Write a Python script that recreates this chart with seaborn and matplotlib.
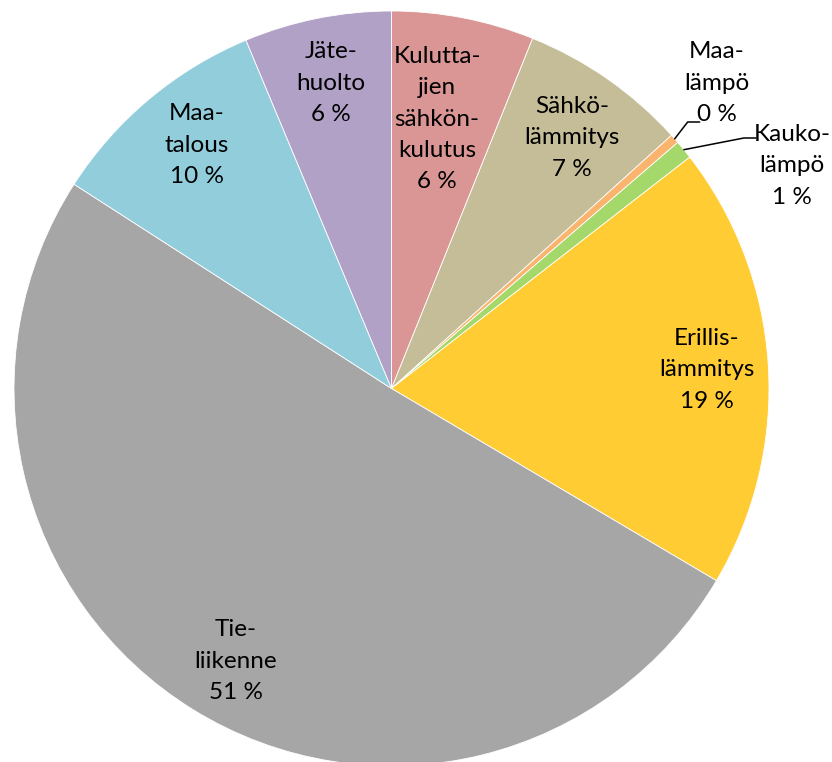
import matplotlib
matplotlib.use("Agg")
import matplotlib.pyplot as plt
import seaborn as sns
import numpy as np

sns.set_theme(style="white")
plt.rcParams["font.family"] = ["Lato", "DejaVu Sans"]

# Emission shares by sector (%)
labels = [
    "Kulutta-\njien\nsähkön-\nkulutus",
    "Sähkö-\nlämmitys",
    "Maa-\nlämpö",
    "Kauko-\nlämpö",
    "Erillis-\nlämmitys",
    "Tie-\nliikenne",
    "Maa-\ntalous",
    "Jäte-\nhuolto",
]
values = [6.1, 7.2, 0.4, 0.8, 19.0, 50.6, 9.6, 6.3]
colors = ["#D99694", "#C4BD97", "#FAB46E", "#A5D86B",
          "#FFCC33", "#A6A6A6", "#92CDDC", "#B2A1C7"]

# label anchor positions in pixels (layout)
label_px = [(437, 119), (572, 138), (717, 83), (792, 166),
            (707, 370), (236, 661), (197, 145), (331, 83)]
leader = [False, False, True, True, False, False, False, False]

W, H = 832, 762
cx, cy, r = 391.5, H - 388.5, 377.5

fig = plt.figure(figsize=(W / 100, H / 100), dpi=100)
ax = fig.add_axes([0, 0, 1, 1])
wedges, _ = ax.pie(
    values,
    colors=colors,
    startangle=90,
    counterclock=False,
    center=(cx, cy),
    radius=r,
    wedgeprops=dict(edgecolor="white", linewidth=0.6),
)
ax.set_xlim(0, W)
ax.set_ylim(0, H)
ax.set_aspect("equal")
ax.axis("off")

for w, lab, v, (px, py), lead in zip(wedges, labels, values, label_px, leader):
    txt = f"{lab}\n{round(v):.0f} %"
    ax.text(px, H - py, txt, ha="center", va="center", fontsize=17.5,
            linespacing=1.6, color="black")
    if lead:
        mid = np.deg2rad((w.theta1 + w.theta2) / 2)
        x0, y0 = cx + r * np.cos(mid), cy + r * np.sin(mid)
        if lab.startswith("Maa"):
            ly = H - 122
            pts = [(x0, y0), (x0 + 13, ly), (x0 + 25, ly)]
        else:
            ly = H - 138
            pts = [(x0, y0), (x0 + 60, ly), (x0 + 72, ly)]
        xs, ys = zip(*pts)
        ax.plot(xs, ys, color="black", linewidth=1.1)

fig.savefig("out.png", dpi=100)
